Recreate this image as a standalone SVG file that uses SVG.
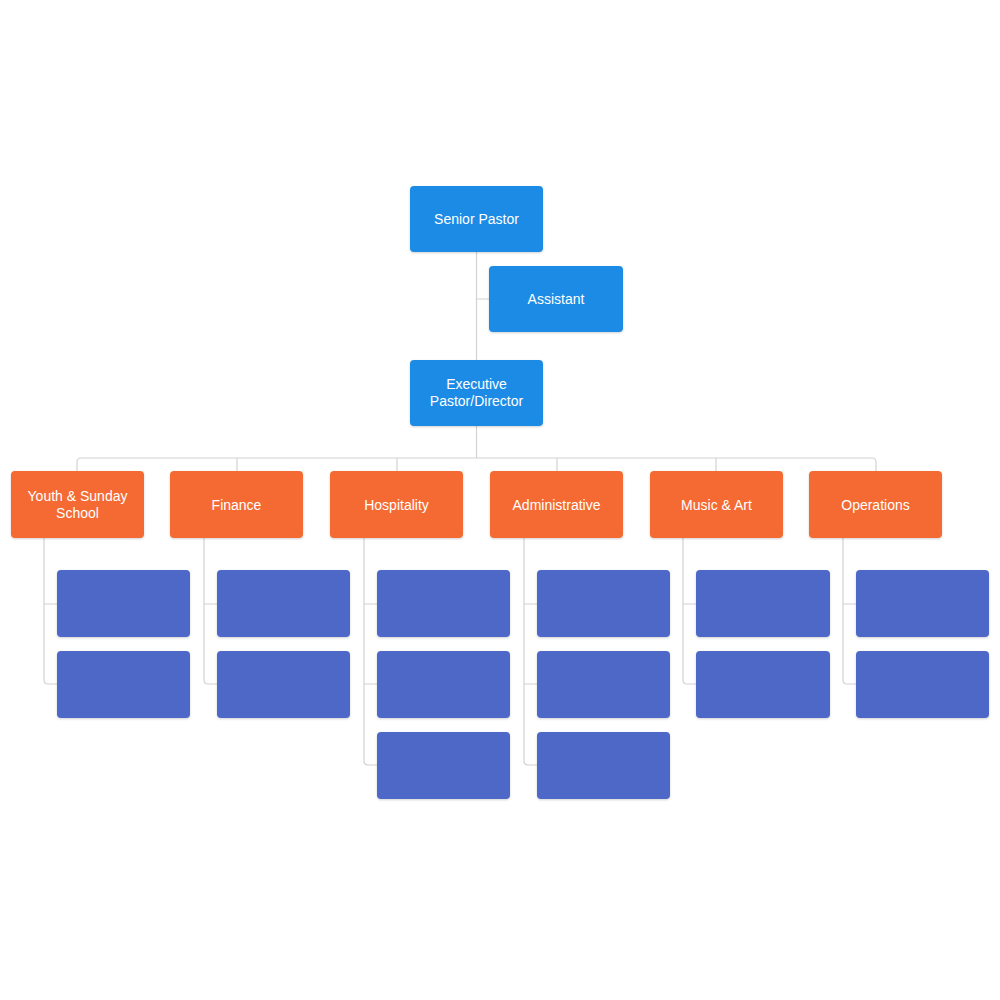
<svg xmlns="http://www.w3.org/2000/svg" width="1000" height="1000" viewBox="0 0 1000 1000">
<defs>
<filter id="sh" x="-10%" y="-10%" width="120%" height="130%"><feDropShadow dx="0" dy="1" stdDeviation="1" flood-color="#000" flood-opacity="0.18"/></filter>
</defs>
<style>
.b{fill:#1E8BE5;filter:url(#sh)}
.o{fill:#F46B32;filter:url(#sh)}
.c{fill:#4E67C6;filter:url(#sh)}
.t{fill:#fff;font-family:"Liberation Sans",Arial,sans-serif;font-size:14px;text-anchor:middle}
.l{fill:none;stroke:#D2D2D2;stroke-width:1.2}
</style>
<rect width="1000" height="1000" fill="#fff"/>
<g id="connectors">
<path class="l" d="M476.5 252V360M476.5 299H489M476.5 426V458"/>
<path class="l" d="M77 471V462Q77 458 81 458H872Q876 458 876 462V471M237 458V471M397 458V471M557 458V471M716 458V471"/>
<path class="l" d="M44 538V680Q44 684 48 684H57M44 604H57"/>
<path class="l" d="M204 538V680Q204 684 208 684H217M204 604H217"/>
<path class="l" d="M364 538V761Q364 765 368 765H377M364 604H377M364 684H377"/>
<path class="l" d="M524 538V761Q524 765 528 765H537M524 604H537M524 684H537"/>
<path class="l" d="M683 538V680Q683 684 687 684H696M683 604H696"/>
<path class="l" d="M843 538V680Q843 684 847 684H856M843 604H856"/>
</g>
<g id="senior-pastor"><rect class="b" x="410" y="186" width="133" height="66" rx="4"/><text class="t" x="476.5" y="224">Senior Pastor</text></g>
<g id="assistant"><rect class="b" x="489" y="266" width="134" height="66" rx="4"/><text class="t" x="556" y="304">Assistant</text></g>
<g id="executive"><rect class="b" x="410" y="360" width="133" height="66" rx="4"/><text class="t" x="476.5" y="389">Executive</text><text class="t" x="476.5" y="406">Pastor/Director</text></g>
<g id="youth"><rect class="o" x="11" y="471" width="133" height="67" rx="4"/><text class="t" x="77.5" y="501">Youth &amp; Sunday</text><text class="t" x="77.5" y="518">School</text></g>
<g id="finance"><rect class="o" x="170" y="471" width="133" height="67" rx="4"/><text class="t" x="236.5" y="510">Finance</text></g>
<g id="hospitality"><rect class="o" x="330" y="471" width="133" height="67" rx="4"/><text class="t" x="396.5" y="510">Hospitality</text></g>
<g id="administrative"><rect class="o" x="490" y="471" width="133" height="67" rx="4"/><text class="t" x="556.5" y="510">Administrative</text></g>
<g id="music"><rect class="o" x="650" y="471" width="133" height="67" rx="4"/><text class="t" x="716.5" y="510">Music &amp; Art</text></g>
<g id="operations"><rect class="o" x="809" y="471" width="133" height="67" rx="4"/><text class="t" x="875.5" y="510">Operations</text></g>
<g id="youth-1"><rect class="c" x="57" y="570" width="133" height="67" rx="4"/></g>
<g id="youth-2"><rect class="c" x="57" y="651" width="133" height="67" rx="4"/></g>
<g id="finance-1"><rect class="c" x="217" y="570" width="133" height="67" rx="4"/></g>
<g id="finance-2"><rect class="c" x="217" y="651" width="133" height="67" rx="4"/></g>
<g id="hospitality-1"><rect class="c" x="377" y="570" width="133" height="67" rx="4"/></g>
<g id="hospitality-2"><rect class="c" x="377" y="651" width="133" height="67" rx="4"/></g>
<g id="hospitality-3"><rect class="c" x="377" y="732" width="133" height="67" rx="4"/></g>
<g id="administrative-1"><rect class="c" x="537" y="570" width="133" height="67" rx="4"/></g>
<g id="administrative-2"><rect class="c" x="537" y="651" width="133" height="67" rx="4"/></g>
<g id="administrative-3"><rect class="c" x="537" y="732" width="133" height="67" rx="4"/></g>
<g id="music-1"><rect class="c" x="696" y="570" width="134" height="67" rx="4"/></g>
<g id="music-2"><rect class="c" x="696" y="651" width="134" height="67" rx="4"/></g>
<g id="operations-1"><rect class="c" x="856" y="570" width="133" height="67" rx="4"/></g>
<g id="operations-2"><rect class="c" x="856" y="651" width="133" height="67" rx="4"/></g>
</svg>
